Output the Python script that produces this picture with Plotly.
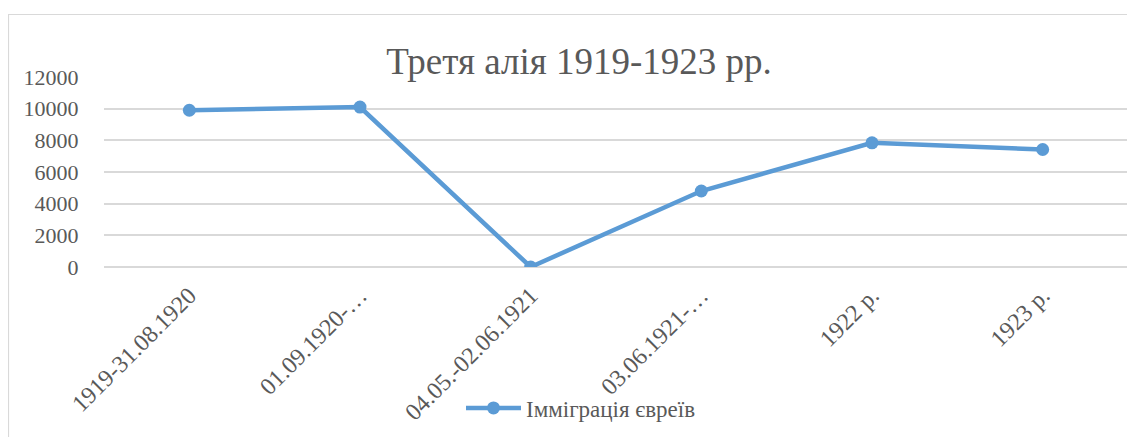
import plotly.graph_objects as go

categories = ["1919-31.08.1920", "01.09.1920-…", "04.05.-02.06.1921", "03.06.1921-…", "1922 р.", "1923 р."]
values = [9900, 10100, 0, 4800, 7844, 7421]
series_name = "Імміграція євреїв"
title_text = "Третя алія 1919-1923 рр."
y_ticks = [0, 2000, 4000, 6000, 8000, 10000, 12000]
y_ticktext = ["0", "2000", "4000", "6000", "8000", "10000", "12000"]

OFF = 8  # page body margin
W, H = 1135 - OFF, 437 - OFF
L, R, T, B = 104 - OFF, 7, 77 - OFF, 170
pw = W - L - R
ph = H - T - B

def px_x(p):
    return (p - OFF - L) / pw

def px_y(p):
    return (H - B - (p - OFF)) / ph

FONT = "Liberation Serif"
GREY = "#595959"
BLUE = "#5B9BD5"

fig = go.Figure()
fig.add_trace(go.Scatter(
    x=categories, y=values, name=series_name, mode="lines+markers",
    line=dict(color=BLUE, width=4.5),
    marker=dict(color=BLUE, size=13),
))

fig.update_layout(
    width=W, height=H,
    margin=dict(l=L, r=R, t=T, b=B),
    paper_bgcolor="white", plot_bgcolor="white",
    font=dict(family=FONT, color=GREY, size=21),
    title=dict(text=title_text, x=px_x(579), xref="paper", xanchor="center",
               y=1 - (61 - OFF) / H, yref="container", yanchor="middle",
               font=dict(family=FONT, size=37, color=GREY)),
    showlegend=True,
    legend=dict(orientation="h", x=px_x(581), xanchor="center", y=px_y(408), yanchor="middle",
                font=dict(family=FONT, size=23, color=GREY), itemwidth=55,
                bgcolor="rgba(0,0,0,0)"),
    xaxis=dict(type="category", range=[-0.5, len(categories) - 0.5], showgrid=False,
               showline=False, zeroline=False, tickangle=-45,
               ticks="outside", ticklen=4, tickcolor="white",
               tickfont=dict(family=FONT, size=24, color=GREY)),
    yaxis=dict(range=[0, 12000], tickvals=y_ticks, ticktext=y_ticktext, showgrid=True,
               gridcolor="#d9d9d9", gridwidth=1.5, zeroline=True, zerolinecolor="#d9d9d9",
               zerolinewidth=1.5, showline=False, ticks="outside", ticklen=20, tickcolor="white",
               tickfont=dict(family=FONT, size=22, color=GREY)),
    shapes=[dict(type="rect", xref="paper", yref="paper",
                 x0=px_x(8.5), x1=px_x(1160), y0=px_y(14.5), y1=px_y(460),
                 line=dict(color="#d9d9d9", width=1.2), fillcolor="rgba(0,0,0,0)", layer="below")],
)

fig.write_html("out.html")
